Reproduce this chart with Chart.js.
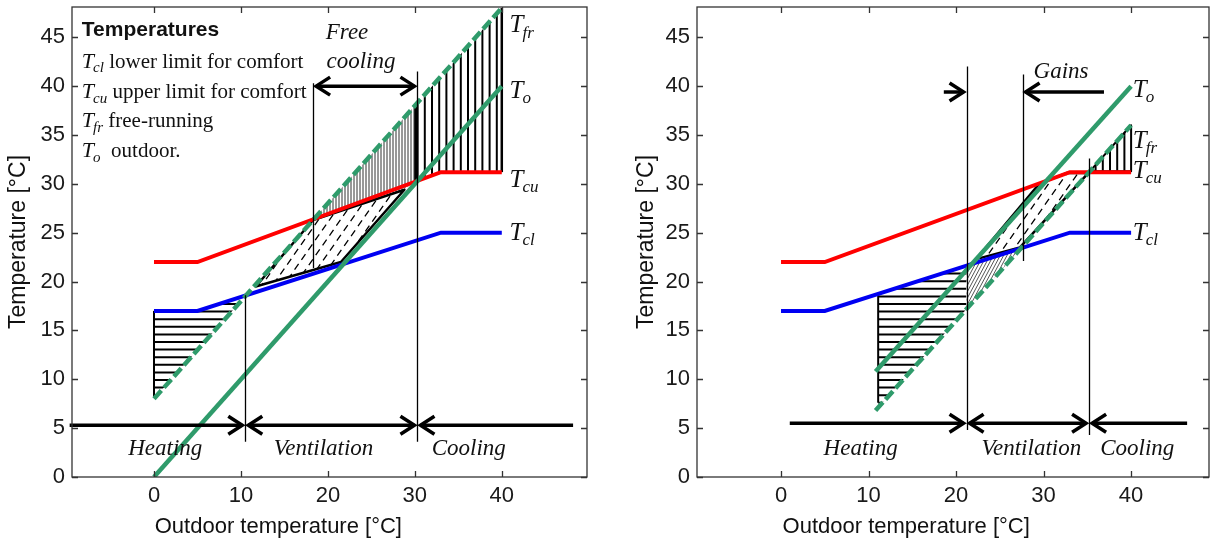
<!DOCTYPE html>
<html lang="en">
<head>
<meta charset="utf-8" />
<title>Heating, ventilation and cooling zones</title>
<style>
    body { margin: 0; background: #fff; }
    .panel { position: absolute; top: 0; width: 606px; height: 540px; }
    #pa { left: 0; }
    #pb { left: 606px; }
</style>
</head>
<body>
<div class="panel" id="pa"><canvas id="chartA"></canvas></div>
<div class="panel" id="pb"><canvas id="chartB"></canvas></div>
<script src="https://cdn.jsdelivr.net/npm/chart.js@4.4.1/dist/chart.umd.min.js"></script>
<script>
    // ---- data (°C) ----
    const xTicks = [0, 10, 20, 30, 40];
    const yTicks = [0, 5, 10, 15, 20, 25, 30, 35, 40, 45];

    // comfort limits, same in both panels
    const limX = [0, 5, 33, 40];
    const tcuY = [22, 22, 31.2, 31.2];
    const tclY = [17, 17, 25, 25];

    // left panel: outdoor / free-running
    const toAX = [0, 40];
    const toAY = [0, 40];
    const tfrAX = [0, 40];
    const tfrAY = [8, 48];

    // right panel
    const toBX = [10.8, 40];
    const toBY = [10.8, 40];
    const tfrBX = [10.8, 40];
    const tfrBY = [6.8, 36];

    // hatched regions, vertices [x, y]
    const heatA = [[0, 8], [0, 17], [5, 17], [10.4, 18.4]];
    const freeA = [[18.3, 26.3], [30.3, 38.3], [30.3, 30.3], [28.8, 29.5]];
    const coolA = [[30.3, 30.3], [30.3, 38.3], [40, 48], [40, 31.2], [33, 31.2]];
    const ventA = [[11.7, 19.5], [18.3, 26.3], [28.8, 29.4], [21.5, 22.0]];

    const heatB = [[11.1, 7.1], [11.1, 18.7], [21.2, 21.6], [21.2, 17.2]];
    const fineB = [[21.2, 17.2], [21.2, 21.7], [27.3, 23.3]];
    const ventB = [[22.3, 22.3], [29.5, 30.0], [32.6, 31.1], [35.1, 31.1], [27.3, 23.5]];
    const coolB = [[35.3, 31.3], [40, 36], [40, 31.3]];

    // extra black edges
    const edgeHeatA = [[0, 8.2], [0, 17]];
    const edgeCoolA = [[40, 31.2], [40, 48]];
    const edgeBandA = [[30.1, 30.3], [30.1, 38.2]];
    const edgeHeatB = [[11.1, 7.6], [11.1, 18.7]];

    // vertical boundary lines [x, yFrom, yTo]
    const vlinesA = [[10.5, 3.6, 18.6], [18.3, 21.4, 40.3], [30.3, 3.6, 41.5]];
    const vlinesB = [[21.2, 4.8, 42.0], [27.6, 22.1, 41.2], [35.2, 4.3, 32.6]];

    // arrows [y, xFrom, xTo, heads]
    const arrowsA = [[5.3, -9.7, 10.5, 'end'], [5.3, 10.5, 30.3, 'both'], [5.3, 30.3, 48.2, 'start'], [40.0, 18.3, 30.3, 'both']];
    const arrowsB = [[5.5, 1.0, 21.2, 'end'], [5.5, 21.2, 35.2, 'both'], [5.5, 35.2, 46.4, 'start'], [39.4, 18.6, 21.2, 'end'], [39.4, 27.6, 36.9, 'start']];

    // italic notes [text, x, y]
    const notesA = [['Heating', 1.3, 2.25], ['Ventilation', 19.5, 2.25], ['Cooling', 36.2, 2.25], ['Free', 22.2, 44.8], ['cooling', 23.8, 41.9]];
    const notesB = [['Heating', 9.1, 2.25], ['Ventilation', 28.6, 2.25], ['Cooling', 40.7, 2.25], ['Gains', 32.0, 40.8]];

    // curve tags [subscript, x, y]
    const tagsA = [['fr', 40.9, 45.5], ['o', 40.9, 38.8], ['cu', 40.9, 29.7], ['cl', 40.9, 24.3]];
    const tagsB = [['o', 40.2, 38.9], ['fr', 40.2, 33.7], ['cu', 40.2, 30.6], ['cl', 40.2, 24.3]];

    // legend block of the left panel
    const legendTitle = 'Temperatures';
    const legendRows = [['cl', ' lower limit for comfort'], ['cu', ' upper limit for comfort'], ['fr', ' free-running'], ['o', '  outdoor.']];
    const legendX = -8.3;
    const legendY = [45.1, 41.9, 38.8, 35.8, 32.7];

    // ---- style ----
    const RED = '#ff0000';
    const BLUE = '#0000f2';
    const GREEN = '#2f9b6b';
    const INK = '#000';
    const SANS = '"Liberation Sans", Arial, Helvetica, sans-serif';
    const SERIF = '"Liberation Serif", "Times New Roman", serif';

    const H_HORIZ = { angle: 0, gap: 7.6, width: 2, color: '#000' };
    const H_THIN = { angle: 90, gap: 3, width: 1, color: '#333' };
    const H_VERT = { angle: 90, gap: 7.2, width: 2, color: '#000' };
    const H_DASH = { angle: 55, gap: 9, width: 1.3, color: '#000', dash: [7, 5] };
    const H_FINE = { angle: 62, gap: 3, width: 1, color: '#555' };

    const pts = (xs, ys) => xs.map((x, i) => ({ x: x, y: ys[i] }));

    function series(toX, toY, frX, frY) {
        return [
            { data: pts(frX, frY), borderColor: GREEN, borderWidth: 4.5, borderDash: [11, 4], showLine: true },
            { data: pts(toX, toY), borderColor: GREEN, borderWidth: 4.5, showLine: true },
            { data: pts(limX, tcuY), borderColor: RED, borderWidth: 4, showLine: true },
            { data: pts(limX, tclY), borderColor: BLUE, borderWidth: 4, showLine: true },
        ];
    }

    function hatch(ctx, X, Y, poly, st) {
        const P = poly.map(([u, v]) => [X(u), Y(v)]);
        ctx.save();
        ctx.beginPath();
        P.forEach(([px, py], i) => i ? ctx.lineTo(px, py) : ctx.moveTo(px, py));
        ctx.closePath();
        ctx.clip();
        const a = st.angle * Math.PI / 180;
        const dx = Math.cos(a), dy = -Math.sin(a);
        const nx = -dy, ny = dx;
        let n0 = Infinity, n1 = -Infinity, d0 = Infinity, d1 = -Infinity;
        P.forEach(([px, py]) => {
            const n = px * nx + py * ny, d = px * dx + py * dy;
            n0 = Math.min(n0, n); n1 = Math.max(n1, n);
            d0 = Math.min(d0, d); d1 = Math.max(d1, d);
        });
        ctx.strokeStyle = st.color;
        ctx.lineWidth = st.width;
        ctx.setLineDash(st.dash || []);
        ctx.beginPath();
        for (let s = Math.ceil(n0 / st.gap) * st.gap; s <= n1; s += st.gap) {
            ctx.moveTo(s * nx + d0 * dx, s * ny + d0 * dy);
            ctx.lineTo(s * nx + d1 * dx, s * ny + d1 * dy);
        }
        ctx.stroke();
        ctx.restore();
    }

    function polyline(ctx, X, Y, poly, w, closed) {
        ctx.save();
        ctx.strokeStyle = INK;
        ctx.lineWidth = w;
        ctx.lineJoin = 'round';
        ctx.beginPath();
        poly.forEach(([u, v], i) => i ? ctx.lineTo(X(u), Y(v)) : ctx.moveTo(X(u), Y(v)));
        if (closed) ctx.closePath();
        ctx.stroke();
        ctx.restore();
    }

    function chevron(ctx, tx, ty, back) {
        ctx.beginPath();
        ctx.moveTo(tx + back * 14, ty - 9);
        ctx.lineTo(tx, ty);
        ctx.lineTo(tx + back * 14, ty + 9);
        ctx.stroke();
    }

    function tLabel(ctx, px, py, sub, rest, big, small, restSize) {
        ctx.textAlign = 'left';
        ctx.textBaseline = 'alphabetic';
        ctx.font = 'italic ' + big + 'px ' + SERIF;
        ctx.fillText('T', px, py);
        let w = ctx.measureText('T').width;
        ctx.font = 'italic ' + small + 'px ' + SERIF;
        ctx.fillText(sub, px + w - 1, py + big * 0.22);
        w += ctx.measureText(sub).width - 1;
        if (rest) {
            ctx.font = restSize + 'px ' + SERIF;
            ctx.fillText(rest, px + w, py);
        }
    }

    function makeSketch(spec) {
        return {
            id: 'sketch',
            beforeDatasetsDraw(chart) {
                const { ctx, chartArea: a } = chart;
                const X = v => chart.scales.x.getPixelForValue(v);
                const Y = v => chart.scales.y.getPixelForValue(v);
                ctx.save();
                ctx.beginPath();
                ctx.rect(a.left, a.top, a.right - a.left, a.bottom - a.top);
                ctx.clip();
                spec.hatches.forEach(([poly, st]) => hatch(ctx, X, Y, poly, st));
                spec.edges.forEach(([poly, w, closed]) => polyline(ctx, X, Y, poly, w, closed));
                ctx.restore();
            },
            afterDatasetsDraw(chart) {
                const { ctx } = chart;
                const X = v => chart.scales.x.getPixelForValue(v);
                const Y = v => chart.scales.y.getPixelForValue(v);
                ctx.save();
                ctx.strokeStyle = INK;
                ctx.lineWidth = 1.3;
                ctx.beginPath();
                spec.vlines.forEach(([x, y0, y1]) => {
                    const px = Math.round(X(x)) + 0.5;
                    ctx.moveTo(px, Y(y0));
                    ctx.lineTo(px, Y(y1));
                });
                ctx.stroke();
                ctx.lineWidth = 3.5;
                ctx.lineJoin = 'miter';
                spec.arrows.forEach(([y, x0, x1, heads]) => {
                    const py = Y(y), p0 = X(x0), p1 = X(x1);
                    const hs = heads === 'start' || heads === 'both';
                    const he = heads === 'end' || heads === 'both';
                    const a0 = hs ? p0 + 3 : p0, a1 = he ? p1 - 3 : p1;
                    ctx.beginPath();
                    ctx.moveTo(a0, py);
                    ctx.lineTo(a1, py);
                    ctx.stroke();
                    if (hs) chevron(ctx, a0, py, 1);
                    if (he) chevron(ctx, a1, py, -1);
                });
                ctx.restore();
            },
            afterDraw(chart) {
                const { ctx, chartArea: a } = chart;
                const X = v => chart.scales.x.getPixelForValue(v);
                const Y = v => chart.scales.y.getPixelForValue(v);
                ctx.save();
                // box with inward ticks
                ctx.strokeStyle = '#333';
                ctx.lineWidth = 1.3;
                ctx.strokeRect(a.left, a.top, a.right - a.left, a.bottom - a.top);
                ctx.beginPath();
                xTicks.forEach(v => {
                    const px = Math.round(X(v)) + 0.5;
                    ctx.moveTo(px, a.bottom); ctx.lineTo(px, a.bottom - 6);
                    ctx.moveTo(px, a.top); ctx.lineTo(px, a.top + 6);
                });
                yTicks.forEach(v => {
                    const py = Math.round(Y(v)) + 0.5;
                    ctx.moveTo(a.left, py); ctx.lineTo(a.left + 6, py);
                    ctx.moveTo(a.right, py); ctx.lineTo(a.right - 6, py);
                });
                ctx.stroke();

                ctx.fillStyle = '#111';
                // axis titles
                ctx.font = '22px ' + SANS;
                ctx.textAlign = 'center';
                ctx.textBaseline = 'alphabetic';
                ctx.fillText('Outdoor temperature [°C]', X(14.3), 533);
                ctx.save();
                ctx.translate(spec.yTitleX, (a.top + a.bottom) / 2);
                ctx.rotate(-Math.PI / 2);
                ctx.textBaseline = 'middle';
                ctx.font = '23px ' + SANS;
                ctx.fillText('Temperature [°C]', 0, 0);
                ctx.restore();

                // italic notes
                ctx.font = 'italic 23px ' + SERIF;
                ctx.textAlign = 'center';
                spec.notes.forEach(([t, x, y]) => ctx.fillText(t, X(x), Y(y)));

                // curve tags
                spec.tags.forEach(([sub, x, y]) => tLabel(ctx, X(x), Y(y), sub, '', 25, 17, 0));

                // legend block
                if (spec.legend) {
                    ctx.textAlign = 'left';
                    ctx.font = 'bold 21px ' + SANS;
                    ctx.fillText(legendTitle, X(legendX), Y(legendY[0]));
                    legendRows.forEach(([sub, rest], i) => tLabel(ctx, X(legendX), Y(legendY[i + 1]), sub, rest, 22, 15, 21));
                }
                ctx.restore();
            }
        };
    }

    function makeChart(id, yW, padRight, xMin, xMax, datasets, spec) {
        const tickFont = { family: SANS, size: 22 };
        return new Chart(document.getElementById(id), {
            type: 'scatter',
            data: { datasets: datasets },
            options: {
                responsive: true,
                maintainAspectRatio: false,
                animation: false,
                layout: { padding: { top: 7, right: padRight, left: 0, bottom: 0 } },
                elements: { point: { radius: 0, hoverRadius: 0 }, line: { tension: 0, borderCapStyle: 'butt' } },
                plugins: { legend: { display: false }, tooltip: { enabled: false } },
                scales: {
                    x: {
                        type: 'linear', min: xMin, max: xMax,
                        afterBuildTicks: s => { s.ticks = xTicks.map(v => ({ value: v })); },
                        afterFit: s => { s.height = 63; s.paddingLeft = 0; s.paddingRight = 0; },
                        grid: { display: false, drawTicks: false },
                        border: { display: false },
                        ticks: { font: tickFont, color: '#1a1a1a', padding: 6, maxRotation: 0, autoSkip: false },
                    },
                    y: {
                        type: 'linear', min: 0, max: 48.1,
                        afterBuildTicks: s => { s.ticks = yTicks.map(v => ({ value: v })); },
                        afterFit: s => { s.width = yW; s.paddingTop = 0; s.paddingBottom = 0; },
                        grid: { display: false, drawTicks: false },
                        border: { display: false },
                        ticks: { font: tickFont, color: '#1a1a1a', padding: 7, autoSkip: false },
                    },
                },
            },
            plugins: [makeSketch(spec)],
        });
    }

    makeChart('chartA', 72, 19, -9.43, 49.8, series(toAX, toAY, tfrAX, tfrAY), {
        hatches: [[heatA, H_HORIZ], [freeA, H_THIN], [coolA, H_VERT], [ventA, H_DASH]],
        edges: [[ventA, 2.5, true], [edgeHeatA, 2, false], [edgeCoolA, 2.5, false], [edgeBandA, 3, false]],
        vlines: vlinesA,
        arrows: arrowsA,
        notes: notesA,
        tags: tagsA,
        legend: true,
        yTitleX: 19,
    });

    makeChart('chartB', 91, 3, -9.6, 48.9, series(toBX, toBY, tfrBX, tfrBY), {
        hatches: [[heatB, H_HORIZ], [fineB, H_FINE], [ventB, H_DASH], [coolB, H_VERT]],
        edges: [[ventB, 2.5, true], [coolB, 2, true], [edgeHeatB, 2, false]],
        vlines: vlinesB,
        arrows: arrowsB,
        notes: notesB,
        tags: tagsB,
        legend: false,
        yTitleX: 41,
    });
</script>
</body>
</html>
